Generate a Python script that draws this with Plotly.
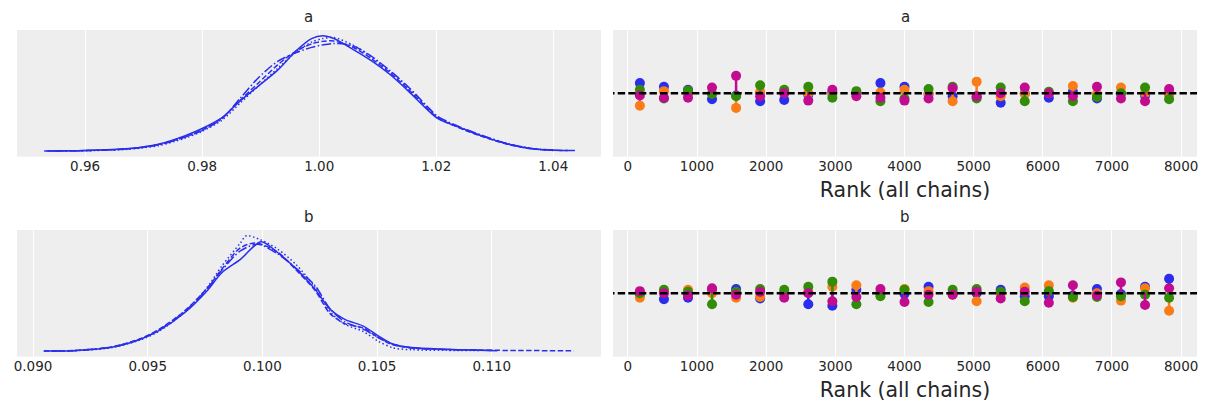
import plotly.graph_objects as go

# ---------------- data ----------------
chain_colors = ["#2a2eec", "#fa7c17", "#328c06", "#c10c90"]
kde_dashes = ["solid", "5.5px,2.4px", "1.5px,2.5px", "9.6px,2.4px,1.5px,2.4px"]

# KDE of "a" per chain (x, density)
a_x0 = [0.953, 0.960, 0.9675, 0.9725, 0.977, 0.980, 0.9834, 0.9866, 0.9897, 0.9929, 0.9961, 0.9987, 1.0006, 1.0025, 1.0057, 1.0089, 1.0120, 1.0152, 1.0184, 1.0203, 1.0248, 1.0286, 1.0324, 1.0362, 1.040, 1.0437]
a_d0 = [0.0, 0.1, 0.67, 1.9, 4.3, 6.4, 9.5, 14.4, 18.6, 23.0, 28.6, 32.0, 32.8, 32.0, 29.0, 25.7, 21.9, 17.1, 11.9, 9.2, 6.2, 3.8, 1.9, 0.67, 0.19, 0.1]
a_x1 = [0.9535, 0.960, 0.9675, 0.9725, 0.977, 0.980, 0.9834, 0.9866, 0.9897, 0.9929, 0.9961, 0.9987, 1.0006, 1.0025, 1.0057, 1.0089, 1.0120, 1.0152, 1.0184, 1.0203, 1.0248, 1.0286, 1.0324, 1.0362, 1.040, 1.0425]
a_d1 = [0.0, 0.1, 0.6, 1.8, 4.0, 6.0, 9.4, 14.6, 19.5, 24.5, 28.5, 30.5, 31.2, 31.3, 29.6, 26.3, 22.4, 17.6, 12.3, 9.4, 6.0, 3.7, 1.8, 0.6, 0.2, 0.1]
a_x2 = [0.956, 0.960, 0.9675, 0.9725, 0.977, 0.980, 0.9834, 0.9866, 0.9897, 0.9929, 0.9961, 0.9987, 1.0006, 1.0025, 1.0057, 1.0089, 1.0120, 1.0152, 1.0184, 1.0203, 1.0248, 1.0286, 1.0324, 1.0362, 1.040]
a_d2 = [0.0, 0.05, 0.5, 1.5, 3.6, 5.6, 8.8, 13.8, 18.6, 23.5, 28.2, 31.0, 32.0, 32.3, 30.2, 26.8, 22.8, 18.0, 12.6, 9.6, 6.1, 3.9, 2.0, 0.7, 0.1]
a_x3 = [0.9545, 0.960, 0.9675, 0.9725, 0.977, 0.980, 0.9834, 0.9866, 0.9897, 0.9929, 0.9961, 0.9987, 1.0006, 1.0025, 1.0057, 1.0089, 1.0120, 1.0152, 1.0184, 1.0203, 1.0248, 1.0286, 1.0324, 1.0362, 1.040, 1.041]
a_d3 = [0.0, 0.1, 0.6, 1.7, 3.9, 5.8, 9.2, 15.2, 21.0, 25.5, 28.0, 29.5, 30.2, 30.6, 30.0, 27.0, 23.0, 18.3, 12.8, 9.8, 6.3, 4.0, 2.0, 0.7, 0.25, 0.2]

# KDE of "b" per chain
b_x0 = [0.09047, 0.09174, 0.09336, 0.09466, 0.09547, 0.09661, 0.09758, 0.09823, 0.09904, 0.09994, 0.10067, 0.10148, 0.10229, 0.10294, 0.10359, 0.10440, 0.10505, 0.10570, 0.10651, 0.10797, 0.11024]
b_d0 = [0.0, 0.5, 5.5, 19, 33, 63, 99, 129, 151, 180, 162, 135, 102, 69, 52, 41, 25, 11, 5.5, 2.8, 0.5]
b_x1 = [0.09047, 0.09174, 0.09336, 0.09466, 0.09547, 0.09661, 0.09758, 0.09823, 0.09904, 0.09970, 0.10067, 0.10148, 0.10229, 0.10294, 0.10359, 0.10440, 0.10505, 0.10570, 0.10651, 0.10797, 0.11024, 0.11357]
b_d1 = [0.0, 0.6, 6, 20, 35, 66, 103, 135, 170, 178, 163, 133, 100, 62, 45, 38, 22, 10, 5, 2.5, 1.0, 0.3]
b_x2 = [0.0915, 0.09174, 0.09336, 0.09466, 0.09547, 0.09661, 0.09758, 0.09823, 0.09904, 0.09930, 0.09994, 0.10067, 0.10148, 0.10229, 0.10294, 0.10359, 0.10440, 0.10505, 0.10570, 0.10651, 0.10797, 0.1095]
b_d2 = [0.0, 0.3, 5, 18, 32, 64, 104, 140, 178, 190, 183, 168, 142, 105, 65, 44, 32, 16, 5, 2, 1.0, 0.5]
b_x3 = [0.0908, 0.09174, 0.09336, 0.09466, 0.09547, 0.09661, 0.09758, 0.09823, 0.09904, 0.09980, 0.10067, 0.10148, 0.10229, 0.10294, 0.10359, 0.10440, 0.10505, 0.10570, 0.10651, 0.10797, 0.1100]
b_d3 = [0.0, 0.5, 6, 19, 34, 65, 102, 133, 165, 176, 160, 136, 108, 70, 48, 36, 22, 11, 5, 2.5, 0.8]

# rank bins (centers) and counts per chain
rank_bins = [174, 522, 870, 1217, 1565, 1913, 2261, 2609, 2957, 3304, 3652, 4000,
             4348, 4696, 5043, 5391, 5739, 6087, 6435, 6783, 7130, 7478, 7826]
ref_count = 86.96

a_rank0 = [101, 96, 92, 79, 84, 76, 78, 85, 88, 87, 101, 96, 86, 83, 82, 74, 87, 81, 89, 80, 87, 84, 87]
a_rank1 = [70, 90, 86, 87, 67, 89, 90, 87, 86, 87, 88, 92, 86, 76, 103, 83, 86, 87, 97, 86, 95, 87, 85]
a_rank2 = [92, 80, 91, 86, 83, 98, 92, 96, 81, 90, 76, 80, 93, 96, 80, 95, 76, 89, 76, 82, 87, 95, 79]
a_rank3 = [84, 81, 81, 95, 111, 83, 87, 77, 92, 83, 81, 77, 80, 94, 83, 87, 95, 87, 83, 96, 80, 76, 93]

b_rank0 = [85, 79, 81, 92, 93, 80, 87, 72, 70, 92, 87, 86, 96, 87, 87, 92, 83, 83, 84, 93, 86, 96, 107]
b_rank1 = [81, 89, 92, 87, 81, 82, 87, 89, 96, 98, 87, 93, 90, 85, 76, 86, 95, 98, 81, 87, 77, 94, 63]
b_rank2 = [87, 92, 89, 72, 89, 93, 92, 96, 103, 72, 83, 92, 75, 92, 93, 89, 76, 90, 82, 82, 83, 85, 81]
b_rank3 = [90, 87, 84, 94, 85, 89, 81, 87, 76, 82, 93, 75, 85, 85, 89, 80, 89, 74, 98, 84, 102, 71, 94]

rank_ticks = [0, 1000, 2000, 3000, 4000, 5000, 6000, 7000, 8000]
a_ticks = [0.96, 0.98, 1.00, 1.02, 1.04]
b_ticks = [0.090, 0.095, 0.100, 0.105, 0.110]

# ---------------- figure ----------------
W, H = 1211, 411
fig = go.Figure()

kde_sets = [
    ("x", "y", [(a_x0, a_d0), (a_x1, a_d1), (a_x2, a_d2), (a_x3, a_d3)]),
    ("x3", "y3", [(b_x0, b_d0), (b_x1, b_d1), (b_x2, b_d2), (b_x3, b_d3)]),
]
for xa, ya, curves in kde_sets:
    for i, (xs, ds) in enumerate(curves):
        fig.add_trace(go.Scatter(
            x=xs, y=ds, xaxis=xa, yaxis=ya, mode="lines",
            line=dict(color=chain_colors[0], width=1.5, dash=kde_dashes[i],
                      shape="spline", smoothing=0.8),
            showlegend=False, hoverinfo="skip"))

rank_sets = [
    ("x2", "y2", [a_rank0, a_rank1, a_rank2, a_rank3]),
    ("x4", "y4", [b_rank0, b_rank1, b_rank2, b_rank3]),
]
for xa, ya, chains in rank_sets:
    for i, counts in enumerate(chains):
        vx, vy = [], []
        for xb, c in zip(rank_bins, counts):
            vx += [xb, xb, None]
            vy += [ref_count, c, None]
        fig.add_trace(go.Scatter(
            x=vx, y=vy, xaxis=xa, yaxis=ya, mode="lines",
            line=dict(color=chain_colors[i], width=2.5),
            showlegend=False, hoverinfo="skip"))
        fig.add_trace(go.Scatter(
            x=rank_bins, y=counts, xaxis=xa, yaxis=ya, mode="markers",
            marker=dict(color=chain_colors[i], size=10, line=dict(width=0)),
            showlegend=False))
    fig.add_trace(go.Scatter(
        x=[-300, 8400], y=[ref_count, ref_count], xaxis=xa, yaxis=ya, mode="lines",
        line=dict(color="black", width=2.5, dash="7.4px,3.2px"),
        showlegend=False, hoverinfo="skip"))

FONT = "DejaVu Sans"
TXT = "#262626"

left_dom = [14 / W, 600 / W]
right_dom = [612 / W, 1198 / W]
top_dom = [1 - 156.7 / H, 1 - 30 / H]
bot_dom = [1 - 356.7 / H, 1 - 230 / H]

def xax(dom, rng, ticks, fmt=None, anchor=None, title=None):
    d = dict(domain=dom, range=rng, tickvals=ticks, showgrid=True, gridcolor="white",
             gridwidth=1, zeroline=False, showline=False, ticks="", anchor=anchor,
             tickfont=dict(family=FONT, size=13.5, color=TXT))
    if fmt:
        d["tickformat"] = fmt
    if title:
        d["title"] = dict(text=title, font=dict(family=FONT, size=20.5, color=TXT), standoff=9)
    return d

def yax(dom, rng, anchor):
    return dict(domain=dom, range=rng, showgrid=False, zeroline=False, showticklabels=False,
                ticks="", showline=False, anchor=anchor)

fig.update_layout(
    width=W, height=H, margin=dict(l=0, r=0, t=0, b=0),
    paper_bgcolor="white", plot_bgcolor="#eeeeee",
    xaxis=xax(left_dom, [0.94835, 1.04816], a_ticks, ".2f", "y"),
    yaxis=yax(top_dom, [-1.64, 34.44], "x"),
    xaxis2=xax(right_dom, [-215, 8230], rank_ticks, None, "y2", "Rank (all chains)"),
    yaxis2=yax(top_dom, [0, 2 * ref_count], "x2"),
    xaxis3=xax(left_dom, [0.0893, 0.11476], b_ticks, ".3f", "y3"),
    yaxis3=yax(bot_dom, [-9.5, 199.5], "x3"),
    xaxis4=xax(right_dom, [-215, 8230], rank_ticks, None, "y4", "Rank (all chains)"),
    yaxis4=yax(bot_dom, [0, 2 * ref_count], "x4"),
)

for cx, cy, t in [((left_dom[0] + left_dom[1]) / 2, 1 - 17 / H, "a"),
                  ((right_dom[0] + right_dom[1]) / 2, 1 - 17 / H, "a"),
                  ((left_dom[0] + left_dom[1]) / 2, 1 - 217 / H, "b"),
                  ((right_dom[0] + right_dom[1]) / 2, 1 - 217 / H, "b")]:
    fig.add_annotation(x=cx, y=cy, xref="paper", yref="paper", text=t, showarrow=False,
                       xanchor="center", yanchor="middle",
                       font=dict(family=FONT, size=15, color=TXT))

fig.write_html("out.html")
